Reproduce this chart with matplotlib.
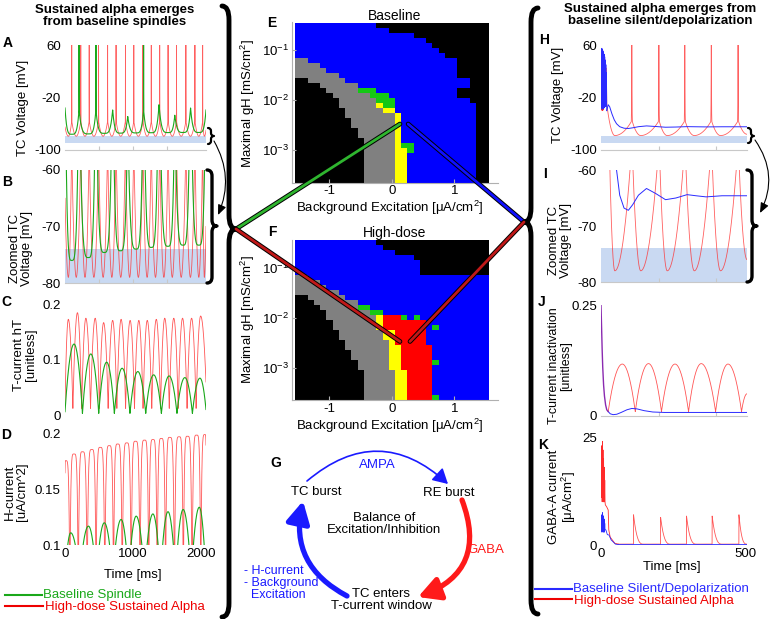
import numpy as np
import matplotlib
matplotlib.use("Agg")
import matplotlib.pyplot as plt
import matplotlib.patheffects as pe
from matplotlib.colors import ListedColormap, BoundaryNorm
from matplotlib.patches import ConnectionPatch, FancyArrowPatch, PathPatch
from matplotlib.path import Path
from matplotlib.ticker import NullLocator

plt.rcParams["font.family"] = ["Liberation Sans", "DejaVu Sans"]
plt.rcParams["mathtext.fontset"] = "custom"
plt.rcParams["mathtext.rm"] = "Liberation Sans"
plt.rcParams["mathtext.it"] = "Liberation Sans:italic"
plt.rcParams["mathtext.bf"] = "Liberation Sans:bold"
plt.rcParams["axes.unicode_minus"] = False

W, H = 775, 619
FS = 9.5
RED, GREEN, BLUE = "#ff2a2a", "#1aa81a", "#2a2aff"
SHADE = "#c9d9f2"

# ---------------- left column (baseline spindle vs high-dose alpha), ms
T_LEFT = 2074
red_spike_t = [99, 232, 356, 494, 627, 751, 889, 1012, 1146, 1269, 1393, 1516, 1640, 1778, 1911, 2025]
red_trough_v = -79
green_bump_t = [0, 701, 923, 1383, 1615, 1847, 2074]
green_bump_v = [-36, -39, -49, -31, -47, -36, -39]
green_spike_t = [207, 455, 1156]
green_trough_t = [99, 345, 578, 815, 1047, 1270, 1515, 1738, 1970]
green_trough_v = [-76, -75.5, -74.6, -74.3, -74, -73.7, -73.5, -73.3, -73.3]

red_hT_peak_t = [49, 183, 307, 444, 568, 701, 825, 958, 1086, 1210, 1343, 1467, 1600, 1729, 1862, 1995]
red_hT_peak_v = [0.174, 0.186, 0.176, 0.176, 0.168, 0.172, 0.174, 0.172, 0.172, 0.172, 0.174,
                 0.176, 0.176, 0.176, 0.176, 0.180]
green_hT_peak_t = [133, 380, 612, 840, 1071, 1304, 1531, 1763, 1985]
green_hT_peak_v = [0.129, 0.111, 0.096, 0.085, 0.079, 0.073, 0.071, 0.068, 0.067]

red_ih_peak_t = [10, 133, 257, 395, 519, 652, 775, 909, 1037, 1170, 1294, 1417, 1541, 1679, 1802, 1936, 2059]
red_ih_peak_v = [0.176, 0.182, 0.184, 0.186, 0.188, 0.1895, 0.191, 0.192, 0.1935, 0.1945, 0.195,
                 0.196, 0.197, 0.1975, 0.198, 0.199, 0.1995]
green_ih_peak_t = [84, 345, 578, 825, 1047, 1293, 1515, 1738, 1975]
green_ih_peak_v = [0.111, 0.117, 0.120, 0.123, 0.126, 0.128, 0.130, 0.132, 0.134]

# ---------------- right column (baseline silent vs high-dose alpha), ms
T_RIGHT = 507
burst_t = list(range(21))
blue_burst_v = [-20, 52, -36, 55, -38, 53, -37, 51, -37, 49, -36, 46, -35, 42, -34, 37, -33, 30, -33, 18, -40]
red_burst_v = [-30, 35, -38, 45, -40, 50, -40, 48, -38, 45, -36, 42, -35, 38, -34, 32, -33, 25, -33, 15, -30]
blue_v_t = [20, 25, 30, 38, 46, 54, 65, 80, 95, 110, 130, 158, 190, 224, 260, 299, 330, 365, 420, 507]
blue_v_v = [-40, -31, -34, -45, -54, -60, -64.5, -66.8, -67.2, -66.2, -64.5, -63.3, -64.2, -65.3,
            -65.0, -64.4, -64.6, -64.8, -64.6, -64.6]
red_r_spike_t = [107, 201, 291, 383, 476]
red_r_trough_t = [48, 138, 230, 324, 415]
red_r_trough_v = -78

hT_drop_t = [0, 2, 4, 6, 9, 12, 16, 20, 25]
hT_drop_v = [0.25, 0.2, 0.15, 0.11, 0.07, 0.045, 0.025, 0.014, 0.01]
red_j_peak_t = [74, 165, 257, 348, 441]
red_j_peak_v = [0.117, 0.118, 0.117, 0.118, 0.117]
red_j_trough_t = [25, 119, 210, 304, 398, 488]
blue_j_t = [25, 32, 42, 55, 70, 90, 107, 125, 150, 180, 220, 300, 507]
blue_j_v = [0.01, 0.005, 0.003, 0.004, 0.008, 0.014, 0.017, 0.016, 0.012, 0.009, 0.008, 0.008, 0.008]

k_burst_t = list(range(15))
k_red_burst_v = [12, 20, 11, 23, 10, 24, 11, 22, 10, 20, 10, 18, 10, 15, 10]
k_blue_burst_v = [3, 6, 3.5, 7, 3, 7.5, 3.2, 6.8, 3, 6.5, 3, 6, 3, 5, 3.5]
k_red_tail_t = [15, 20, 25, 27, 32, 48, 60]
k_red_tail_v = [9.3, 8.8, 8.1, 3.5, 1.8, 0.4, 0.2]
k_blue_tail_t = [15, 17, 22, 28, 35, 50, 60, 507]
k_blue_tail_v = [3.5, 3.5, 2.4, 2.3, 1.2, 0.2, 0.1, 0.1]
k_red_peak_t = [113, 207, 297, 386, 479]
k_red_peak_v = [7.0, 6.4, 6.7, 6.7, 7.0]

# ---------------- parameter maps (rows: gH 10^-0.5 .. 10^-3.6, cols: -1.5 .. 1.5)
MAP_CODES = "ksbgyr"
MAP_COLORS = ["#000000", "#808080", "#0000ff", "#14c814", "#ffff00", "#ff0000"]
E_ROWS = ["b13 k18", "b15 k16", "b19 k12", "b21 k10", "b22 k9", "b23 k8", "b24 k7",
          "s2 b24 k5", "s4 b22 k5", "s5 b21 k5", "s7 b19 k5", "k2 s6 b20 k3", "k4 s6 b18 k3",
          "k5 s5 g3 b13 k5", "k6 s6 g3 b11 k5", "k7 s6 g3 b12 k3", "k7 s6 y1 g2 b13 k2",
          "k8 s6 y2 b13 k2", "k8 s8 y1 b12 k2", "k9 s7 y1 b12 k2", "k9 s7 y1 b12 k2",
          "k10 s6 y1 b12 k2", "k10 s6 y1 b12 k2", "k11 s5 y1 b12 k2", "k11 s5 y1 g2 b10 k2",
          "k11 s5 y2 g1 b10 k2"] + ["k11 s5 y2 b11 k2"] * 6
F_ROWS = ["b13 k18", "b14 k17", "b16 k15", "b19 k12", "b20 k11", "b20 k11", "b20 k11",
          "s2 b29", "s4 b27", "s5 b26", "s7 b24", "k2 s6 b23", "k3 s7 b21", "k4 s6 g2 b19",
          "k5 s7 g2 b17", "k5 s8 y1 r3 g1 b1 g1 b11", "k6 s7 y1 r7 b10", "k6 s7 y1 r7 b1 g1 b8",
          "k7 s7 y2 r5 b10", "k7 s7 y2 r5 b10", "k8 s7 y1 r5 b10", "k8 s7 y2 r5 b9",
          "k9 s6 y2 r5 b9", "k9 s6 y2 r5 b9", "k10 s5 y2 r5 g1 b8", "k10 s5 y2 r5 b9"] \
         + ["k11 s5 y2 r4 b9"] * 5 + ["k11 s5 y2 r4 g1 b8"]
BG_EXC = [round(-1.5 + 0.1 * i, 1) for i in range(31)]
LOG_GH = [round(-0.5 - 0.1 * j, 1) for j in range(32)]
E_TARGETS = [(0.13, 10 ** -2.48), (0.26, 10 ** -2.48)]
F_TARGETS = [(0.13, 10 ** -2.48), (0.29, 10 ** -2.48)]


def decode(rows):
    grid = []
    for spec in rows:
        line = "".join(tok[0] * int(tok[1:]) for tok in spec.split())
        grid.append([MAP_CODES.index(c) for c in line])
    return np.array(grid)


def wave(t, ext_t, ext_v, n, flat_low=True):
    y = np.full(t.shape, np.nan)
    for t0, v0, t1, v1 in zip(ext_t[:-1], ext_v[:-1], ext_t[1:], ext_v[1:]):
        m = (t >= t0) & (t <= t1)
        s = (t[m] - t0) / (t1 - t0)
        if (v0 <= v1) == flat_low:
            y[m] = v0 + (v1 - v0) * s ** n
        else:
            y[m] = v1 + (v0 - v1) * (1 - s) ** n
    return y


def extrema(pairs_t, pairs_v, spikes=(), base=-57, top=60, hw=2.0):
    ts, vs = list(pairs_t), list(pairs_v)
    for st in spikes:
        ts += [st - hw, st, st + hw]
        vs += [base, top, base]
    order = np.argsort(ts, kind="stable")
    return np.array(ts, float)[order], np.array(vs, float)[order]


def mids(ts):
    ts = list(ts)
    return [(a + b) / 2 for a, b in zip(ts[:-1], ts[1:])]


fig = plt.figure(figsize=(W / 100, H / 100), dpi=100)


def px_axes(l, t, r, b):
    return fig.add_axes([l / W, 1 - b / H, (r - l) / W, (b - t) / H])


def trace_axes(ax, xmax, ylim, yticks, ylabels, xticks, xlabels=None, spine=True):
    ax.set_xlim(0, xmax)
    ax.set_ylim(*ylim)
    for s in ax.spines.values():
        s.set_visible(False)
    if spine:
        ax.spines["bottom"].set_visible(True)
        ax.spines["bottom"].set_color("#c8c8c8")
        ax.spines["bottom"].set_linewidth(0.8)
    ax.set_yticks(yticks, ylabels)
    ax.set_xticks(xticks, xlabels if xlabels else [""] * len(xticks))
    ax.tick_params(axis="y", length=0, labelsize=FS, pad=3)
    ax.tick_params(axis="x", direction="in", length=3 if spine else 0, color="#c8c8c8",
                   labelsize=FS, pad=2)
    ax.patch.set_alpha(0)


tl = np.arange(0, T_LEFT + 0.25, 0.25)
tr = np.arange(0, T_RIGHT + 0.05, 0.05)
LW = 0.6

# left voltage traces
knots = [0] + red_spike_t + [T_LEFT]
rt, rv = extrema([0, T_LEFT] + mids(knots), [-65, -70] + [red_trough_v] * (len(knots) - 1), red_spike_t)
red_v_left = wave(tl, rt, rv, 2)
gt, gv = extrema(green_bump_t + green_trough_t, green_bump_v + green_trough_v, green_spike_t, base=-42, hw=3)
green_v_left = wave(tl, gt, gv, 4)

axA = px_axes(65, 45, 206, 150)
axB = px_axes(65, 170, 206, 283)
for ax, ylim, ticks, span in [(axA, (-100, 60), [-100, -20, 60], (-90, -79)),
                              (axB, (-80, -60), [-80, -70, -60], (-80, -74))]:
    ax.axhspan(*span, color=SHADE, lw=0)
    ax.plot(tl, red_v_left, color=RED, lw=LW, alpha=0.75)
    ax.plot(tl, green_v_left, color=GREEN, lw=0.8)
    trace_axes(ax, T_LEFT, ylim, ticks, [str(v) for v in ticks], [500, 1000, 1500])

# hT
axC = px_axes(65, 305, 206, 415)
ht_t, ht_v = extrema([0] + mids(red_hT_peak_t) + [T_LEFT] + red_hT_peak_t,
                     [0.02] + [0.012] * 15 + [0.06] + red_hT_peak_v)
axC.plot(tl, wave(tl, ht_t, ht_v, 2, flat_low=False), color=RED, lw=LW, alpha=0.8)
gt_t, gt_v = extrema([0] + mids(green_hT_peak_t) + [T_LEFT] + green_hT_peak_t,
                     [0.006] + [0.003] * 8 + [0.01] + green_hT_peak_v)
axC.plot(tl, wave(tl, gt_t, gt_v, 2, flat_low=False), color=GREEN, lw=0.8)
trace_axes(axC, T_LEFT, (0, 0.2), [0, 0.1, 0.2], ["0", "0.1", "0.2"], [], spine=False)

# H-current
axD = px_axes(65, 434, 206, 545)
ih_t, ih_v = extrema([0] + mids(red_ih_peak_t) + [T_LEFT] + red_ih_peak_t,
                     [0.165] + [0.05] * 16 + [0.19] + red_ih_peak_v)
axD.plot(tl, wave(tl, ih_t, ih_v, 5, flat_low=False), color=RED, lw=LW, alpha=0.8)
gi_t, gi_v = extrema([0] + mids(green_ih_peak_t) + [T_LEFT] + green_ih_peak_t,
                     [0.07] * 10 + green_ih_peak_v)
axD.plot(tl, wave(tl, gi_t, gi_v, 2, flat_low=False), color=GREEN, lw=0.8)
trace_axes(axD, T_LEFT, (0.1, 0.2), [0.1, 0.15, 0.2], ["0.1", "0.15", "0.2"],
           [0, 1000, 2000], ["0", "1000", "2000"], spine=False)

# right voltage traces
rr_t, rr_v = extrema([20, T_RIGHT] + red_r_trough_t, [-30, -76] + [red_r_trough_v] * 5, red_r_spike_t)
red_v_right = wave(tr, rr_t, rr_v, 2)
axH = px_axes(601, 45, 747, 150)
axI = px_axes(601, 170, 747, 282)
for ax, ylim, ticks, span in [(axH, (-100, 60), [-100, -20, 60], (-90, -79)),
                              (axI, (-80, -60), [-80, -70, -60], (-80, -74))]:
    ax.axhspan(*span, color=SHADE, lw=0)
    ax.plot(burst_t, red_burst_v, color=RED, lw=LW)
    ax.plot(tr, red_v_right, color=RED, lw=LW, alpha=0.75)
    ax.plot(burst_t, blue_burst_v, color=BLUE, lw=LW)
    ax.plot(blue_v_t, blue_v_v, color=BLUE, lw=0.7)
    trace_axes(ax, T_RIGHT, ylim, ticks, [str(v) for v in ticks], [200, 400])

axJ = px_axes(601, 305, 747, 416)
jt, jv = extrema(red_j_trough_t + red_j_peak_t + [T_RIGHT], [0.01] * 6 + red_j_peak_v + [0.05])
axJ.plot(tr, wave(tr, jt, jv, 2, flat_low=False), color=RED, lw=LW, alpha=0.8)
axJ.plot(blue_j_t, blue_j_v, color=BLUE, lw=0.7)
axJ.plot(hT_drop_t, hT_drop_v, color="#8a2ab0", lw=1.0)
trace_axes(axJ, T_RIGHT, (0, 0.25), [0, 0.25], ["0", "0.25"], [200, 400])

axK = px_axes(601, 437, 747, 545)
kt, kv = extrema([60, T_RIGHT] + [p - 0.4 for p in k_red_peak_t] + k_red_peak_t + [p + 35 for p in k_red_peak_t],
                 [0.2, 0.2] + [0.2] * 5 + k_red_peak_v + [0.2] * 5)
axK.plot(tr, wave(tr, kt, kv, 3), color=RED, lw=LW, alpha=0.8)
axK.plot(k_burst_t + k_red_tail_t, k_red_burst_v + k_red_tail_v, color=RED, lw=LW)
axK.plot(k_burst_t + k_blue_tail_t, k_blue_burst_v + k_blue_tail_v, color=BLUE, lw=LW)
trace_axes(axK, T_RIGHT, (0, 25), [0, 25], ["0", "25"], [0, 500], ["0", "500"], spine=False)

# parameter maps
cmap = ListedColormap(MAP_COLORS)
norm = BoundaryNorm(np.arange(-0.5, 6.5), cmap.N)
x_edges = np.array(BG_EXC + [BG_EXC[-1] + 0.1]) - 0.05
y_edges = 10 ** (np.array(LOG_GH + [LOG_GH[-1] - 0.1]) + 0.05)
axE = px_axes(292, 22.5, 498, 182.5)
axF = px_axes(292, 240, 498, 400)
for ax, rows, title in [(axE, E_ROWS, "Baseline"), (axF, F_ROWS, "High-dose")]:
    ax.pcolormesh(x_edges, y_edges, decode(rows), cmap=cmap, norm=norm)
    ax.set_yscale("log")
    ax.set_xlim(-1.6, 1.7)
    ax.set_ylim(10 ** -3.65, 10 ** -0.45)
    ax.yaxis.set_minor_locator(NullLocator())
    ax.set_yticks([1e-3, 1e-2, 1e-1])
    ax.set_xticks([-1, 0, 1], ["-1", "0", "1"])
    for s in ("top", "right"):
        ax.spines[s].set_visible(False)
    for s in ("left", "bottom"):
        ax.spines[s].set_color("#b0b0b0")
    ax.tick_params(direction="in", length=3, color="#b0b0b0", labelsize=FS, pad=2)
    ax.set_title(title, fontsize=10, pad=1)

# ---------------- overlay in pixel coordinates
ov = fig.add_axes([0, 0, 1, 1])
ov.set_xlim(0, W)
ov.set_ylim(H, 0)
ov.axis("off")


def txt(x, y, s, **kw):
    kw.setdefault("fontsize", FS)
    kw.setdefault("ha", "center")
    kw.setdefault("va", "center")
    ov.text(x, y, s, **kw)


def brace(x0, y0, y1, ym, d, r, lw):
    xm = x0 + d / 2
    verts = [(x0, y0), (xm, y0), (xm, y0 + r), (xm, ym - r), (xm, ym), (x0 + d, ym),
             (xm, ym), (xm, ym + r), (xm, y1 - r), (xm, y1), (x0, y1)]
    codes = [Path.MOVETO, Path.CURVE3, Path.CURVE3, Path.LINETO, Path.CURVE3, Path.CURVE3,
             Path.CURVE3, Path.CURVE3, Path.LINETO, Path.CURVE3, Path.CURVE3]
    ov.add_patch(PathPatch(Path(verts, codes), fill=False, lw=lw, color="k",
                           capstyle="round", joinstyle="round"))


def arrow(p0, p1, rad, color, lw, hl, hw, ms=1):
    ov.add_patch(FancyArrowPatch(p0, p1, connectionstyle=f"arc3,rad={rad}",
                                 arrowstyle=f"-|>,head_length={hl},head_width={hw}",
                                 mutation_scale=ms, color=color, lw=lw, shrinkA=0, shrinkB=0))


# titles
txt(115, 16, "Sustained alpha emerges\nfrom baseline spindles", fontweight="bold", linespacing=1.05)
txt(660, 15, "Sustained alpha emerges from\nbaseline silent/depolarization", fontweight="bold",
    linespacing=1.05)

# panel letters
for s, x, y in [("A", 8, 43), ("B", 7, 182), ("C", 6, 302), ("D", 6, 435), ("E", 272, 23),
                ("F", 272, 232), ("G", 276, 463), ("H", 544, 40), ("I", 545, 174), ("J", 542, 302),
                ("K", 543, 445)]:
    txt(x, y, s, fontweight="bold", fontsize=10)

# y labels
for s, x, y, fs in [("TC Voltage [mV]", 23, 108, FS), ("Zoomed TC\nVoltage [mV]", 21, 248, FS),
                    ("T-current hT\n[unitless]", 25, 355, FS), ("H-current\n[uA/cm^2]", 16, 492, FS),
                    ("TC Voltage [mV]", 558, 95, FS), ("Zoomed TC\nVoltage [mV]", 560, 240, FS),
                    ("T-current inactivation\n[unitless]", 560, 366, 9),
                    ("GABA-A current\n[μA/cm$^2$]", 563, 497, FS),
                    ("Maximal gH [mS/cm$^2$]", 248, 104, FS), ("Maximal gH [mS/cm$^2$]", 248, 320, FS)]:
    txt(x, y, s, rotation=90, linespacing=1.0, fontsize=fs)
txt(390, 208, "Background Excitation [μA/cm$^2$]")
txt(390, 426, "Background Excitation [μA/cm$^2$]")
txt(133, 575, "Time [ms]")
txt(672, 567, "Time [ms]")

# legends
ov.plot([5, 42], [595, 595], color=GREEN, lw=1.5)
txt(43, 595, "Baseline Spindle", color=GREEN, ha="left")
ov.plot([5, 43], [606, 606], color="#ee0000", lw=1.5)
txt(45, 607, "High-dose Sustained Alpha", color="#ee0000", ha="left")
ov.plot([535, 572], [589, 589], color=BLUE, lw=1.5)
txt(573, 589, "Baseline Silent/Depolarization", color=BLUE, ha="left")
ov.plot([535, 572], [599, 599], color="#ee0000", lw=1.5)
txt(574, 601, "High-dose Sustained Alpha", color="#ee0000", ha="left")

# braces and links between raw / zoomed traces
brace(222, 6, 617, 229, 14, 14, 3.5)
brace(538, 8, 614, 222, -14, 14, 3.5)
brace(208, 128, 144, 136, 6, 3, 1.6)
brace(207, 170, 283, 226, 10, 6, 2.4)
brace(748, 128, 143, 136, 6, 3, 1.6)
brace(747, 170, 282, 226, 10, 6, 2.4)
arrow((214, 141), (218, 215), -0.25, "k", 0.8, 6, 2.5)
arrow((755, 140), (760, 213), -0.3, "k", 0.8, 6, 2.5)

# links from the brackets to the parameter maps
outline = [pe.Stroke(linewidth=3.4, foreground="black"), pe.Normal()]
for start, ax, target, color in [((236, 229), axE, E_TARGETS[0], "#2fb52f"),
                                 ((236, 229), axF, F_TARGETS[0], "#c01818"),
                                 ((524, 222), axE, E_TARGETS[1], "#1010ff"),
                                 ((524, 222), axF, F_TARGETS[1], "#c01818")]:
    con = ConnectionPatch(xyA=start, coordsA=ov.transData, xyB=target, coordsB=ax.transData,
                          color=color, lw=2.0, zorder=20)
    con.set_path_effects(outline)
    fig.add_artist(con)

# G: thalamic loop diagram
txt(377, 465, "AMPA", color="#1a1aff")
txt(316, 492, "TC burst")
txt(449, 493, "RE burst")
txt(384, 524, "Balance of\nExcitation/Inhibition", linespacing=1.05)
txt(486, 550, "GABA", color="#ff1a1a")
txt(381, 600, "TC enters\nT-current window", linespacing=1.05)
txt(244, 583, "- H-current\n- Background\n  Excitation", color="#1a1aff", ha="left", fontsize=9,
    linespacing=1.05)
arrow((307, 481), (448, 484), -0.44, "#1a1aff", 1.2, 9, 5)
arrow((462, 500), (418, 597), -0.5, "#ff1a1a", 3.8, 13, 7)
arrow((347, 596), (303, 501), -0.38, "#1a1aff", 3.8, 13, 7)

fig.savefig("out.png", dpi=100, facecolor="white")
